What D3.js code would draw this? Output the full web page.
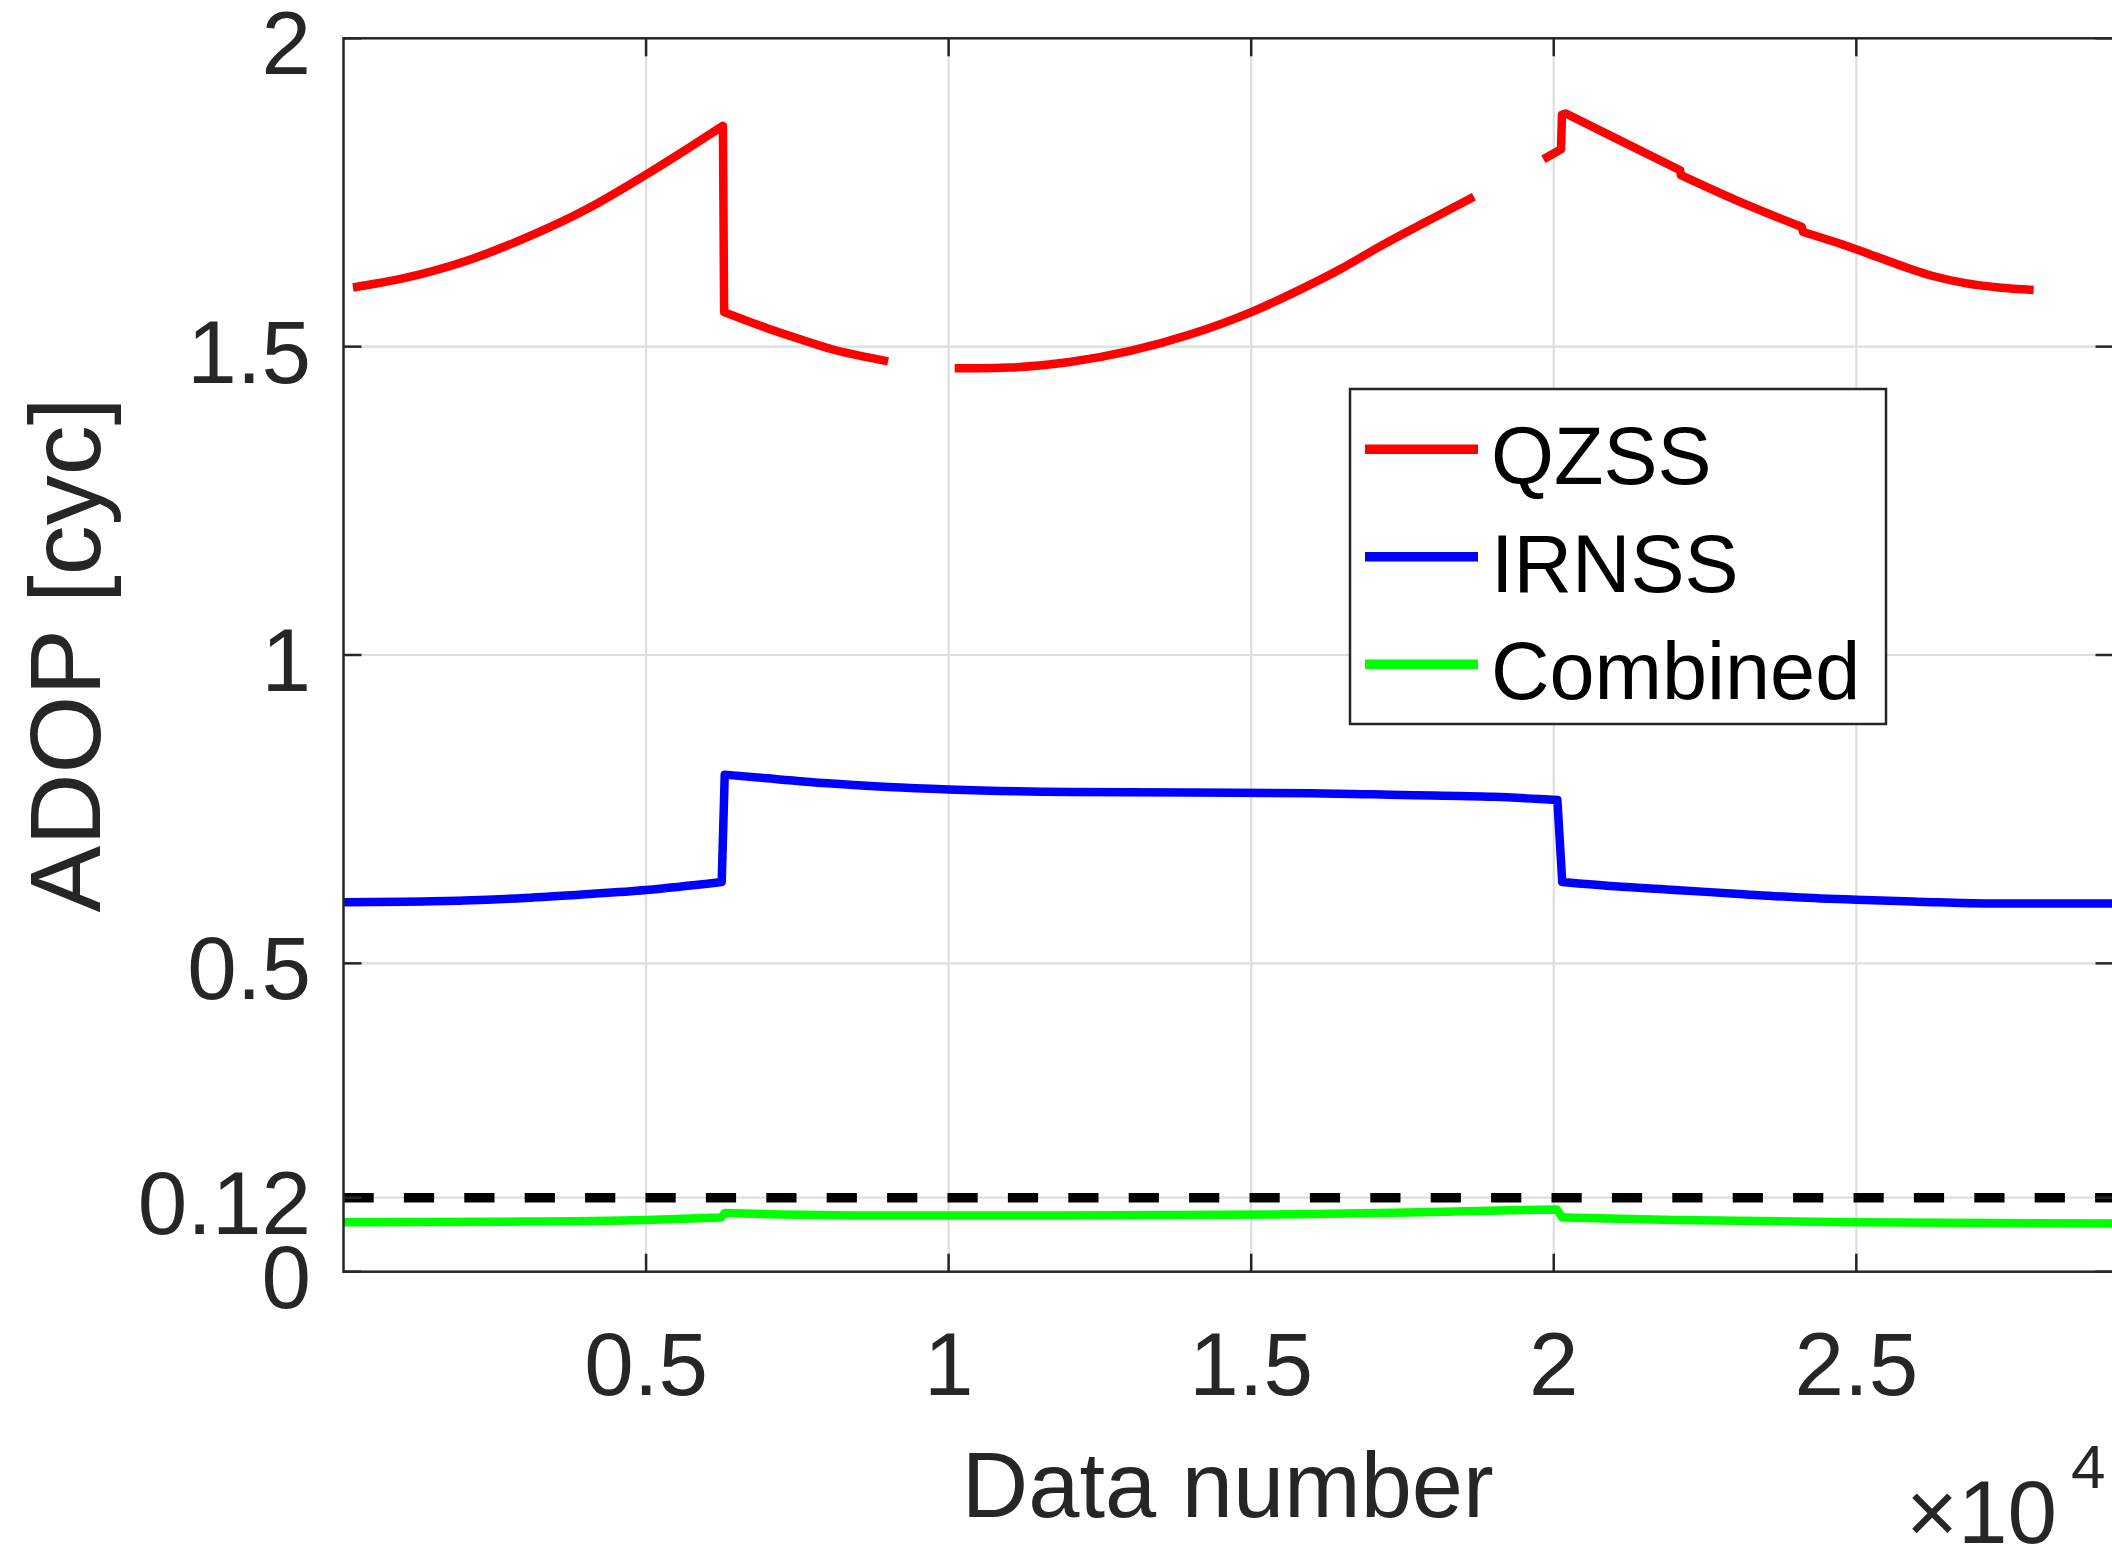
<!DOCTYPE html>
<html>
<head>
<meta charset="utf-8">
<script src="https://cdn.jsdelivr.net/npm/d3@7"></script>
<style>
  html, body { margin: 0; padding: 0; background: #fff; }
  svg { display: block; font-family: "Liberation Sans", Arial, Helvetica, sans-serif; }
</style>
</head>
<body>
<div id="chart"></div>
<script>
// data (x = data number, y = ADOP in cycles), null = gap
const qzssN    = [157, 1000, 2000, 3000, 4000, 5000, 5700, 6270, 6290, 7000, 7550, 8100, 8650, 9000, null,
                  10100, 10500, 11000, 12000, 13000, 14000, 15000, 15800, 16500, 17100, 17900, 18680, null,
                  19830, 20120, 20135, 20200, 21000, 22090, 22100, 23000, 24100, 24120, 24700, 25220, 25750,
                  26250, 26800, 27350, 27930];
const qzssADOP = [1.596, 1.611, 1.638, 1.676, 1.722, 1.779, 1.822, 1.858, 1.556, 1.530, 1.512, 1.495, 1.483, 1.476, null,
                  1.465, 1.465, 1.466, 1.475, 1.493, 1.520, 1.556, 1.592, 1.627, 1.661, 1.703, 1.743, null,
                  1.804, 1.820, 1.876, 1.878, 1.839, 1.786, 1.778, 1.738, 1.694, 1.686, 1.668, 1.650, 1.631,
                  1.615, 1.603, 1.596, 1.592];

const irnssN    = [0, 1000, 2000, 3000, 4000, 5000, 6250, 6300, 7000, 8000, 9000, 10000, 12000, 14000, 16000,
                   17500, 19000, 20060, 20140, 21000, 22000, 23000, 24000, 25000, 26000, 27200, 29250];
const irnssADOP = [0.599, 0.600, 0.602, 0.606, 0.612, 0.619, 0.632, 0.806, 0.800, 0.792, 0.786, 0.782, 0.778, 0.777, 0.776,
                   0.773, 0.770, 0.765, 0.632, 0.625, 0.619, 0.613, 0.607, 0.603, 0.600, 0.597, 0.597];

const combinedN    = [0, 2500, 5000, 6240, 6300, 9000, 12000, 15800, 18000, 20050, 20140, 22000, 25000, 29250];
const combinedADOP = [0.080, 0.081, 0.084, 0.088, 0.095, 0.091, 0.091, 0.093, 0.097, 0.101, 0.088, 0.084, 0.080, 0.078];

const threshold = 0.12;

const xTicks = [5000, 10000, 15000, 20000, 25000];
const xTickLabels = ["0.5", "1", "1.5", "2", "2.5"];
const yTicks = [0, 0.12, 0.5, 1, 1.5, 2];
const yTickLabels = ["0", "0.12", "0.5", "1", "1.5", "2"];

const seriesNames = ["QZSS", "IRNSS", "Combined"];


const COLORS = {
    qzss: "#ff0000",
    irnss: "#0000ff",
    combined: "#00ff00",
    axis: "#262626",
    grid: "#dedede"
};

const width = 2112, height = 1549;
const plot = { left: 343.5, right: 2113.5, top: 38.3, bottom: 1271.7 };
const tickLen = 18;
const tickFont = 89, xLabelFont = 92, yLabelFont = 100, legendFont = 81;

const svg = d3.select("#chart")
    .append("svg")
    .attr("width", width)
    .attr("height", height);

svg.append("rect").attr("width", width).attr("height", height).attr("fill", "#fff");

const x = d3.scaleLinear().domain([0, 29250]).range([plot.left, plot.right]);
const y = d3.scaleLinear().domain([0, 2]).range([plot.bottom, plot.top]);

const zip = (a, b) => a.map((v, i) => [v, b[i]]);

// smooth runs, straight jumps (points closer than jumpGap), breaks at nulls
const smooth = d3.line()
    .x(d => x(d[0]))
    .y(d => y(d[1]))
    .curve(d3.curveMonotoneX);
const jumpGap = 200;

function seriesPath(data) {
    let out = "";
    let run = [];
    let connect = false;
    const flush = () => {
        if (run.length > 1) {
            const s = smooth(run);
            out += connect ? "L" + s.slice(1) : s;
        } else if (run.length === 1) {
            out += (connect ? "L" : "M") + x(run[0][0]) + "," + y(run[0][1]);
        }
    };
    data.forEach(d => {
        if (d[0] == null) {
            flush();
            run = [];
            connect = false;
            return;
        }
        const prev = run[run.length - 1];
        if (prev && d[0] - prev[0] < jumpGap) {
            flush();
            run = [];
            connect = true;
        }
        run.push(d);
    });
    flush();
    return out;
}

// grid
svg.append("g").selectAll("line.vgrid")
    .data(xTicks).enter().append("line")
    .attr("x1", d => x(d)).attr("x2", d => x(d))
    .attr("y1", plot.top).attr("y2", plot.bottom)
    .attr("stroke", COLORS.grid).attr("stroke-width", 2.2);

svg.append("g").selectAll("line.hgrid")
    .data(yTicks.filter(d => d > 0 && d < 2)).enter().append("line")
    .attr("x1", plot.left).attr("x2", plot.right)
    .attr("y1", d => y(d)).attr("y2", d => y(d))
    .attr("stroke", COLORS.grid).attr("stroke-width", 2.2);

// series
const series = [
    { name: "QZSS", data: zip(qzssN, qzssADOP), color: COLORS.qzss },
    { name: "IRNSS", data: zip(irnssN, irnssADOP), color: COLORS.irnss },
    { name: "Combined", data: zip(combinedN, combinedADOP), color: COLORS.combined }
];

svg.append("g").selectAll("path.series")
    .data(series).enter().append("path")
    .attr("d", d => seriesPath(d.data))
    .attr("fill", "none")
    .attr("stroke", d => d.color)
    .attr("stroke-width", 8.5)
    .attr("stroke-linejoin", "round")
    .attr("stroke-linecap", "butt");

// 0.12 threshold
svg.append("line")
    .attr("x1", x(0)).attr("x2", plot.right)
    .attr("y1", y(threshold)).attr("y2", y(threshold))
    .attr("stroke", "#000").attr("stroke-width", 9.5)
    .attr("stroke-dasharray", "30.2,30.2");

// axes box and ticks
const axes = svg.append("g").attr("stroke", COLORS.axis).attr("stroke-width", 2.5).attr("fill", "none");
axes.append("rect")
    .attr("x", plot.left).attr("y", plot.top)
    .attr("width", plot.right - plot.left).attr("height", plot.bottom - plot.top);

xTicks.forEach(t => {
    axes.append("line").attr("x1", x(t)).attr("x2", x(t)).attr("y1", plot.bottom).attr("y2", plot.bottom - tickLen);
    axes.append("line").attr("x1", x(t)).attr("x2", x(t)).attr("y1", plot.top).attr("y2", plot.top + tickLen);
});
yTicks.forEach(t => {
    axes.append("line").attr("x1", plot.left).attr("x2", plot.left + tickLen).attr("y1", y(t)).attr("y2", y(t));
    axes.append("line").attr("x1", plot.right).attr("x2", plot.right - tickLen).attr("y1", y(t)).attr("y2", y(t));
});

// tick labels
svg.append("g").selectAll("text")
    .data(xTicks).enter().append("text")
    .attr("x", d => x(d))
    .attr("y", 1395)
    .attr("text-anchor", "middle")
    .attr("fill", COLORS.axis)
    .style("font-size", tickFont + "px")
    .text((d, i) => xTickLabels[i]);

svg.append("g").selectAll("text")
    .data(yTicks).enter().append("text")
    .attr("x", 311)
    .attr("y", d => y(d) + 36)
    .attr("text-anchor", "end")
    .attr("fill", COLORS.axis)
    .style("font-size", tickFont + "px")
    .text((d, i) => yTickLabels[i]);

// axis labels
svg.append("text")
    .attr("x", (plot.left + 2112) / 2)
    .attr("y", 1517)
    .attr("text-anchor", "middle")
    .attr("fill", COLORS.axis)
    .style("font-size", xLabelFont + "px")
    .text("Data number");

svg.append("text")
    .attr("transform", `translate(100,${(plot.top + plot.bottom) / 2}) rotate(-90)`)
    .attr("text-anchor", "middle")
    .attr("fill", COLORS.axis)
    .style("font-size", yLabelFont + "px")
    .text("ADOP [cyc]");

// x10^4 exponent
svg.append("text")
    .attr("x", 1906)
    .attr("y", 1543)
    .attr("fill", COLORS.axis)
    .style("font-size", tickFont + "px")
    .text("\u00d710");
svg.append("text")
    .attr("x", 2071)
    .attr("y", 1488)
    .attr("fill", COLORS.axis)
    .style("font-size", "62px")
    .text("4");

// legend
const legend = svg.append("g");
legend.append("rect")
    .attr("x", 1350).attr("y", 389)
    .attr("width", 536).attr("height", 335)
    .attr("fill", "#fff")
    .attr("stroke", COLORS.axis).attr("stroke-width", 2.5);

const legendRow = d3.scaleLinear().domain([0, 2]).range([449.3, 664.3]);
const item = legend.selectAll("g.item")
    .data(series).enter().append("g")
    .attr("transform", (d, i) => `translate(0,${legendRow(i)})`);
item.append("line")
    .attr("x1", 1365).attr("x2", 1478)
    .attr("stroke", d => d.color).attr("stroke-width", 9.5);
item.append("text")
    .attr("x", 1491).attr("y", 35)
    .attr("fill", "#000")
    .style("font-size", legendFont + "px")
    .text((d, i) => seriesNames[i]);
</script>
</body>
</html>
